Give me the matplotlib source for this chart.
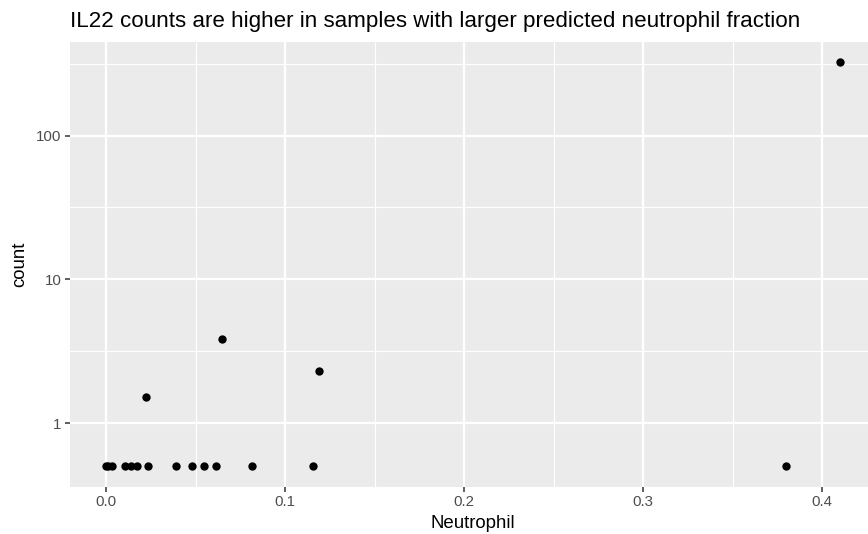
import numpy as np
import matplotlib.pyplot as plt
from matplotlib.ticker import FixedLocator, NullFormatter

# valori (conteggi nulli disegnati a 0.5)
neutrophil = [0.000, 0.001, 0.003, 0.0105, 0.014, 0.0173, 0.0232, 0.039, 0.048,
              0.0547, 0.0613, 0.0816, 0.1156, 0.380,
              0.0223, 0.0648, 0.119, 0.410]
count = [0.5, 0.5, 0.5, 0.5, 0.5, 0.5, 0.5, 0.5, 0.5,
         0.5, 0.5, 0.5, 0.5, 0.5,
         1.52, 3.84, 2.3, 325]

x_breaks = [0.0, 0.1, 0.2, 0.3, 0.4]
x_labels = ["0.0", "0.1", "0.2", "0.3", "0.4"]
y_breaks = [1, 10, 100]
y_labels = ["1", "10", "100"]

plt.rcParams['font.family'] = ['Liberation Sans', 'DejaVu Sans']

W, H = 868, 534
fig = plt.figure(figsize=(W / 100, H / 100), dpi=100)
fig.patch.set_facecolor("white")

left, right, top, bottom = 69.5, 876.6, 41.8, 486.5
ax = fig.add_axes([left / W, (H - bottom) / H, (right - left) / W, (bottom - top) / H])
ax.set_facecolor("#EBEBEB")

ax.set_yscale("log")
# espansione 5% come ggplot
lx = np.array([min(neutrophil), max(neutrophil)])
dx = (lx[1] - lx[0]) * 0.05
ax.set_xlim(lx[0] - dx, lx[1] + dx)
ly = np.log10([min(count), max(count)])
dy = (ly[1] - ly[0]) * 0.05
ax.set_ylim(10 ** (ly[0] - dy), 10 ** (ly[1] + dy))

ax.xaxis.set_major_locator(FixedLocator(x_breaks))
ax.set_xticklabels(x_labels)
ax.xaxis.set_minor_locator(FixedLocator([0.05, 0.15, 0.25, 0.35]))
ax.yaxis.set_major_locator(FixedLocator(y_breaks))
ax.set_yticklabels(y_labels)
ax.yaxis.set_minor_locator(FixedLocator([10 ** -0.5, 10 ** 0.5, 10 ** 1.5, 10 ** 2.5]))
ax.yaxis.set_minor_formatter(NullFormatter())

ax.grid(True, which="major", color="white", linewidth=1.6)
ax.grid(True, which="minor", color="white", linewidth=0.8)
ax.set_axisbelow(True)
for s in ax.spines.values():
    s.set_visible(False)

ax.tick_params(which="major", length=3.3, width=1.1, color="#333333",
               labelsize=10.8, labelcolor="#4D4D4D", pad=2.5)
ax.tick_params(which="minor", length=0)

ax.scatter(neutrophil, count, s=36, color="black", linewidths=0, zorder=3)

# titoli posizionati a mano
fig.text((left + right) / 2 / W, 1 - 528 / H, "Neutrophil", fontsize=13.4,
         ha="center", va="baseline")
fig.text(20 / W, 1 - (top + bottom) / 2 / H, "count", fontsize=13.4,
         ha="center", va="center", rotation=90)
fig.text(70 / W, 1 - 27 / H, "IL22 counts are higher in samples with larger predicted neutrophil fraction",
         fontsize=16.1, ha="left", va="baseline")

fig.savefig("out.png", dpi=100)
